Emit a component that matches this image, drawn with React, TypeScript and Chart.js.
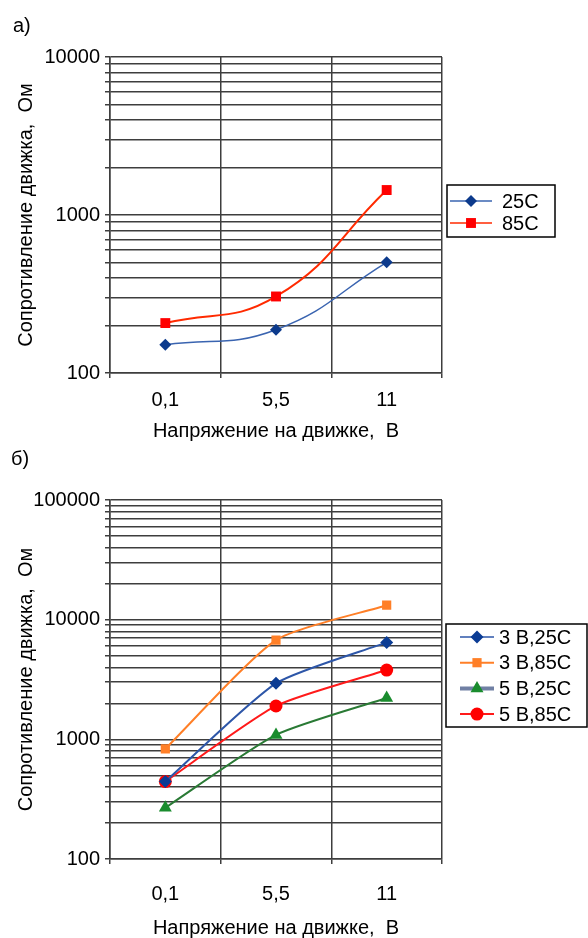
import React, { useEffect, useRef } from 'react';
import { Chart, registerables } from 'chart.js';

Chart.register(...registerables);

// ---------- data ----------
const categories = ['0,1', '5,5', '11'];

const seriesA25 = [151, 188, 502];
const seriesA85 = [207, 305, 1439];

const seriesB3V25 = [444, 2938, 6457];
const seriesB3V85 = [832, 6745, 13210];
const seriesB5V25 = [268, 1089, 2215];
const seriesB5V85 = [444, 1900, 3793];

const decadesA = [100, 1000, 10000];
const decadesB = [100, 1000, 10000, 100000];

const labelsA = ['25C', '85C'];
const labelsB = ['3 В,25C', '3 В,85C', '5 В,25C', '5 В,85C'];

const xTitle = 'Напряжение на движке,  В';
const yTitle = 'Сопротивление движка,  Ом';

// ---------- styles ----------
const FONT_FAMILY = '"Liberation Sans", Arial, sans-serif';
const GRID = '#3e3e3e';
const GRID_W = 1.5;

function minorTicks(decades: number[]) {
  const out: number[] = [];
  for (let i = 0; i < decades.length - 1; i++) {
    for (let m = 1; m < 10; m++) out.push(decades[i] * m);
  }
  out.push(decades[decades.length - 1]);
  return out;
}

function drawMarker(ctx: CanvasRenderingContext2D, style: string, x: number, y: number, r: number) {
  ctx.beginPath();
  if (style === 'rectRot') {
    ctx.moveTo(x, y - r);
    ctx.lineTo(x + r, y);
    ctx.lineTo(x, y + r);
    ctx.lineTo(x - r, y);
    ctx.closePath();
  } else if (style === 'rect') {
    const s = r * Math.SQRT1_2;
    ctx.rect(x - s, y - s, 2 * s, 2 * s);
  } else if (style === 'triangle') {
    ctx.moveTo(x, y - r);
    ctx.lineTo(x + 0.866 * r, y + 0.5 * r);
    ctx.lineTo(x - 0.866 * r, y + 0.5 * r);
    ctx.closePath();
  } else {
    ctx.arc(x, y, r, 0, Math.PI * 2);
  }
  ctx.fill();
}

const boxLegend = {
  id: 'boxLegend',
  afterDraw(chart: any, _args: any, opts: any) {
    const { ctx } = chart;
    ctx.save();
    ctx.strokeStyle = '#000';
    ctx.lineWidth = 1.5;
    ctx.strokeRect(opts.x, opts.y, opts.w, opts.h);
    ctx.font = `20px ${FONT_FAMILY}`;
    ctx.textBaseline = 'middle';
    ctx.textAlign = 'left';
    chart.data.datasets.forEach((ds: any, i: number) => {
      const cy = opts.firstY + i * opts.rowH;
      ctx.strokeStyle = (opts.lineColors && opts.lineColors[i]) || ds.borderColor;
      ctx.lineWidth = (opts.lineWidths && opts.lineWidths[i]) || 1.5;
      ctx.beginPath();
      ctx.moveTo(opts.lineX0, cy);
      ctx.lineTo(opts.lineX1, cy);
      ctx.stroke();
      ctx.fillStyle = ds.pointBackgroundColor;
      drawMarker(ctx, ds.pointStyle, (opts.lineX0 + opts.lineX1) / 2, cy, ds.pointRadius);
      ctx.fillStyle = '#000';
      ctx.fillText(ds.label, opts.textX, cy + 1);
    });
    ctx.restore();
  },
};

type Props = {
  top: number;
  height: number;
  datasets: any[];
  decades: number[];
  padTop: number;
  xAxisH: number;
  tickPad: number;
  titlePadBottom: number;
  legend: any;
};

function LogChart(p: Props) {
  const ref = useRef<HTMLCanvasElement | null>(null);
  useEffect(() => {
    if (!ref.current) return;
    const tickValues = minorTicks(p.decades);
    const font = { family: FONT_FAMILY, size: 20 };
    const chart = new Chart(ref.current, {
      type: 'line',
      data: { labels: categories, datasets: p.datasets },
      plugins: [boxLegend as any],
      options: {
        responsive: true,
        maintainAspectRatio: false,
        animation: false,
        events: [],
        layout: { padding: { left: 0, right: 146, top: p.padTop, bottom: 0 } },
        plugins: {
          legend: { display: false },
          tooltip: { enabled: false },
          boxLegend: p.legend,
        } as any,
        scales: {
          x: {
            type: 'category',
            offset: true,
            grid: { offset: true, color: GRID, lineWidth: GRID_W, tickLength: 5, drawTicks: true },
            border: { color: GRID, width: GRID_W },
            ticks: { color: '#000', font, padding: p.tickPad },
            title: {
              display: true,
              text: xTitle,
              color: '#000',
              font,
              padding: { top: 0, bottom: p.titlePadBottom },
            },
            afterFit: (s: any) => {
              s.height = p.xAxisH;
            },
          },
          y: {
            type: 'logarithmic',
            min: p.decades[0],
            max: p.decades[p.decades.length - 1],
            afterBuildTicks: (s: any) => {
              s.ticks = tickValues.map((v) => ({ value: v }));
            },
            grid: { color: GRID, lineWidth: GRID_W, tickLength: 5 },
            border: { color: GRID, width: GRID_W },
            ticks: {
              autoSkip: false,
              color: '#000',
              font,
              padding: 5,
              callback: (v: any) => (p.decades.includes(Number(v)) ? String(v) : ''),
            },
            title: {
              display: true,
              text: yTitle,
              color: '#000',
              font,
              padding: { top: 14, bottom: 0 },
            },
            afterFit: (s: any) => {
              s.width = 110;
            },
          },
        },
      },
    });
    return () => chart.destroy();
  }, []);
  return (
    <div style={{ position: 'absolute', left: 0, top: p.top, width: 588, height: p.height }}>
      <canvas ref={ref} />
    </div>
  );
}

const datasetsA = [
  {
    label: labelsA[0],
    data: seriesA25,
    borderColor: '#3a64b0',
    borderWidth: 1.5,
    pointStyle: 'rectRot',
    pointRadius: 6,
    pointBackgroundColor: '#0c3a8c',
    pointBorderColor: '#0c3a8c',
    pointBorderWidth: 0,
    tension: 0.45,
  },
  {
    label: labelsA[1],
    data: seriesA85,
    borderColor: '#ff2a00',
    borderWidth: 2,
    pointStyle: 'rect',
    pointRadius: 7,
    pointBackgroundColor: '#ff0000',
    pointBorderColor: '#ff0000',
    pointBorderWidth: 0,
    tension: 0.45,
  },
];

const datasetsB = [
  {
    label: labelsB[0],
    data: seriesB3V25,
    borderColor: '#2d56a8',
    borderWidth: 2,
    pointStyle: 'rectRot',
    pointRadius: 6.5,
    pointBackgroundColor: '#0b3c94',
    pointBorderColor: '#0b3c94',
    pointBorderWidth: 0,
    tension: 0.2,
  },
  {
    label: labelsB[1],
    data: seriesB3V85,
    borderColor: '#ff7f27',
    borderWidth: 2,
    pointStyle: 'rect',
    pointRadius: 6.5,
    pointBackgroundColor: '#ff7f27',
    pointBorderColor: '#ff7f27',
    pointBorderWidth: 0,
    tension: 0.2,
  },
  {
    label: labelsB[2],
    data: seriesB5V25,
    borderColor: '#2a7a35',
    borderWidth: 2,
    pointStyle: 'triangle',
    pointRadius: 7.5,
    pointBackgroundColor: '#1a8c2e',
    pointBorderColor: '#1a8c2e',
    pointBorderWidth: 0,
    tension: 0.2,
  },
  {
    label: labelsB[3],
    data: seriesB5V85,
    borderColor: '#ff1a1a',
    borderWidth: 2,
    pointStyle: 'circle',
    pointRadius: 6.5,
    pointBackgroundColor: '#ff0000',
    pointBorderColor: '#ff0000',
    pointBorderWidth: 0,
    tension: 0.2,
  },
];

const labelStyle: React.CSSProperties = {
  position: 'absolute',
  fontFamily: FONT_FAMILY,
  fontSize: 20,
  color: '#000',
  lineHeight: '20px',
};

export default function App() {
  return (
    <div style={{ position: 'absolute', left: 0, top: 0, width: 588, height: 938, background: '#fff', overflow: 'hidden' }}>
      <LogChart
        top={0}
        height={450}
        datasets={datasetsA}
        decades={decadesA}
        padTop={57}
        xAxisH={77}
        tickPad={10}
        titlePadBottom={7}
        legend={{ x: 447, y: 185, w: 108, h: 52, firstY: 201, rowH: 22, lineX0: 450, lineX1: 492, textX: 502 }}
      />
      <LogChart
        top={450}
        height={500}
        datasets={datasetsB}
        decades={decadesB}
        padTop={50}
        xAxisH={91}
        tickPad={18}
        titlePadBottom={10}
        legend={{
          x: 446,
          y: 174,
          w: 141,
          h: 103,
          firstY: 187,
          rowH: 25.7,
          lineX0: 460,
          lineX1: 494,
          textX: 499,
          lineColors: [null, null, '#7080a4', null],
          lineWidths: [1.5, 2, 4, 2],
        }}
      />
      <div style={{ ...labelStyle, left: 13, top: 15 }}>а)</div>
      <div style={{ ...labelStyle, left: 11, top: 448 }}>б)</div>
    </div>
  );
}
